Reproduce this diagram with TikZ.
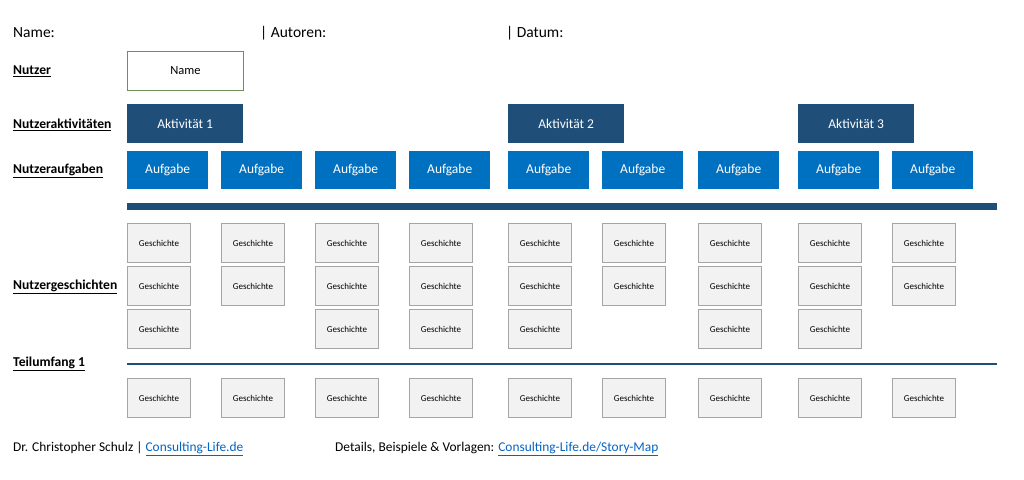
\documentclass[tikz,border=0pt]{standalone}
\usepackage{fontspec}
\setmainfont{Carlito}
\usetikzlibrary{positioning}
\definecolor{darkblue}{HTML}{1F4E79}
\definecolor{taskblue}{HTML}{0070C0}
\definecolor{storyfill}{HTML}{F2F2F2}
\definecolor{storydraw}{HTML}{A5A5A5}
\definecolor{namegreen}{HTML}{6E9157}
\definecolor{linkblue}{HTML}{0563C1}

\begin{document}
\begin{tikzpicture}[x=1bp,y=-1bp,
  txt/.style={anchor=west, inner sep=0pt, font=\fontsize{15.5bp}{18bp}\selectfont},
  foot/.style={anchor=west, inner sep=0pt, font=\fontsize{13.4bp}{16bp}\selectfont},
  rowlabel/.style={anchor=west, inner sep=0pt, font=\fontsize{13.6bp}{16bp}\selectfont\bfseries},
  namebox/.style={anchor=north west, draw=namegreen, line width=1bp, fill=white,
    minimum width=116bp, minimum height=39bp, inner sep=0pt, font=\fontsize{12.5bp}{14bp}\selectfont},
  activity/.style={anchor=north west, fill=darkblue, text=white,
    minimum width=116bp, minimum height=39bp, inner sep=0pt, font=\fontsize{13.5bp}{15bp}\selectfont},
  task/.style={anchor=north west, fill=taskblue, text=white,
    minimum width=81bp, minimum height=38bp, inner sep=0pt, font=\fontsize{13.5bp}{15bp}\selectfont},
  story/.style={anchor=north west, fill=storyfill, draw=storydraw, line width=1bp,
    minimum width=63bp, minimum height=39bp, inner sep=0pt, font=\fontsize{9bp}{11bp}\selectfont}]
\useasboundingbox (0,0) rectangle (1024,480);

% header
\node[txt] (name) at (13,33) {Name:};
\node[txt] (autoren) at (260,33) {| Autoren:};
\node[txt] (datum) at (506,33) {| Datum:};

% row labels
\node[rowlabel] (lnutzer) at (13,71) {\underline{Nutzer}};
\node[rowlabel] (laktiv) at (13,125) {\underline{Nutzeraktivitäten}};
\node[rowlabel] (laufg) at (13,171) {\underline{Nutzeraufgaben}};
\node[rowlabel] (lgesch) at (13,287) {\underline{Nutzergeschichten}};
\node[rowlabel] (lteil) at (13,364) {\underline{Teilumfang 1}};

% user and activities
\node[namebox] (user) at (127,51) {Name};
\node[activity] (a1) at (127,104) {Aktivität 1};
\node[activity] (a2) at (508,104) {Aktivität 2};
\node[activity] (a3) at (798,104) {Aktivität 3};

% tasks and stories
\foreach \x/\n [count=\i] in {127/3,221/2,315/3,409/3,508/3,602/2,698/3,798/3,892/2} {
  \node[task] (t\i) at (\x,151) {Aufgabe};
  \foreach \r in {1,...,\n}
    \node[story] (s\i-\r) at (\x,{223+(\r-1)*43}) {Geschichte};
  \node[story] (u\i) at (\x,378) {Geschichte};
}

% backbone and release line
\fill[darkblue] (127,203) rectangle (997,210);
\draw[darkblue, line width=2bp] (127,364) -- (997,364);

% footer
\node[foot] (author) at (13,449)
  {Dr. Christopher Schulz | \textcolor{linkblue}{\underline{Consulting-Life.de}}};
\node[foot] (details) at (335,449)
  {Details, Beispiele \& Vorlagen: \textcolor{linkblue}{\underline{Consulting-Life.de/Story-Map}}};
\end{tikzpicture}
\end{document}
